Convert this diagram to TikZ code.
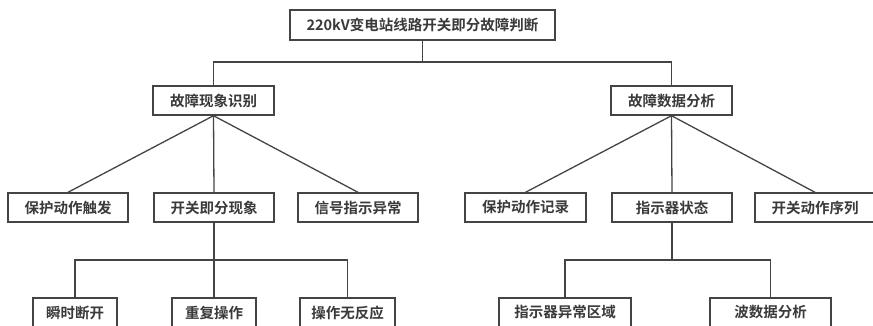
\documentclass[tikz,border=0pt]{standalone}
\usepackage{fontspec}
\newfontfamily\cjk{Noto Sans CJK SC}[BoldFont={Noto Sans CJK SC Bold}]
\definecolor{linec}{HTML}{444444}
\definecolor{textc}{HTML}{3A3A3A}
\begin{document}
\begin{tikzpicture}[x=1pt,y=-1pt,
  box/.style={draw=linec,line width=1.4pt,fill=white,rectangle,inner sep=0pt,
    minimum height=29pt,text=textc,font=\cjk\bfseries\fontsize{14.5}{16}\selectfont},
  conn/.style={draw=linec,line width=1.3pt}]
\useasboundingbox (0,0) rectangle (873,325);
\clip (0,0) rectangle (873,325);
% level 0
\node[box,minimum width=265pt,minimum height=30pt] (top) at (422.5,25) {220kV变电站线路开关即分故障判断};
% level 1
\node[box,minimum width=121pt] (fa) at (213.5,100.5) {故障现象识别};
\node[box,minimum width=121pt] (fb) at (671.5,100.5) {故障数据分析};
% level 2
\node[box,minimum width=120pt] (a1) at (68,207.5) {保护动作触发};
\node[box,minimum width=120pt] (a2) at (214,207.5) {开关即分现象};
\node[box,minimum width=120pt] (a3) at (358,207.5) {信号指示异常};
\node[box,minimum width=121pt] (b1) at (525.5,207.5) {保护动作记录};
\node[box,minimum width=120pt] (b2) at (672,207.5) {指示器状态};
\node[box,minimum width=120pt] (b3) at (815,207.5) {开关动作序列};
% level 3
\node[box,minimum width=84pt] (c1) at (75,312.5) {瞬时断开};
\node[box,minimum width=84pt] (c2) at (214,312.5) {重复操作};
\node[box,minimum width=95pt] (c3) at (347.5,312.5) {操作无反应};
\node[box,minimum width=132pt] (d1) at (565,312.5) {指示器异常区域};
\node[box,minimum width=121pt] (d2) at (770.5,312.5) {波数据分析};
% bus coordinates
\coordinate (bus0) at (422.5,62);
\coordinate (busa) at (214,260);
\coordinate (busb) at (672,260);
% connectors level 0 -> 1
\draw[conn] (top.south) -- (bus0);
\draw[conn] (fa.north) |- (bus0) -| (fb.north);
% level 1 -> 2
\draw[conn] (fa.south) -- (a1.north);
\draw[conn] (fa.south) -- (a2.north);
\draw[conn] (fa.south) -- (a3.north);
\draw[conn] (fb.south) -- (b1.north);
\draw[conn] (fb.south) -- (b2.north);
\draw[conn] (fb.south) -- (b3.north);
% level 2 -> 3
\draw[conn] (a2.south) -- (busa);
\draw[conn] (c1.north) |- (busa) -| (c3.north);
\draw[conn] (busa) -- (c2.north);
\draw[conn] (b2.south) -- (busb);
\draw[conn] (d1.north) |- (busb) -| (d2.north);
\end{tikzpicture}
\end{document}
